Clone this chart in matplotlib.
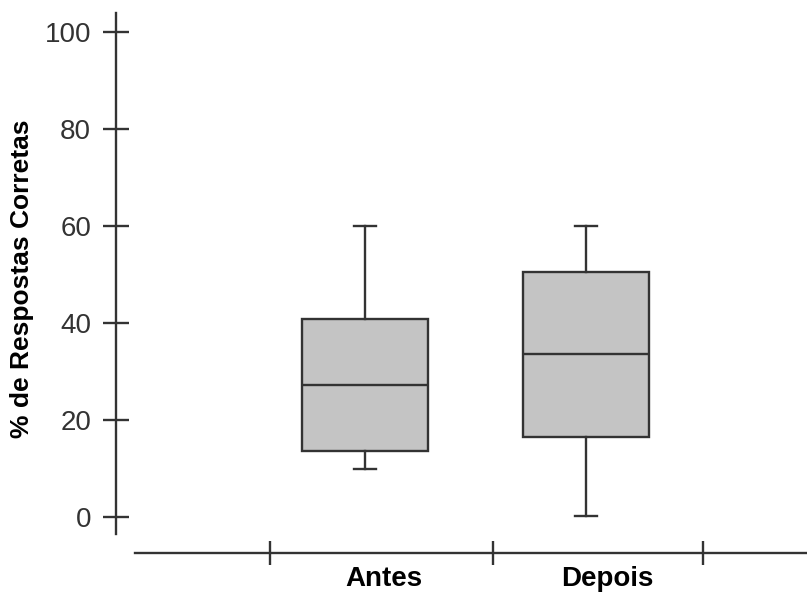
import matplotlib.pyplot as plt

# box plot values (% correct answers)
groups = ["Antes", "Depois"]
whisker_low = [10, 0.3]
q1 = [13.6, 16.5]
median = [27.3, 33.7]
q3 = [40.8, 50.5]
whisker_high = [60, 60]

y_ticks = [0, 20, 40, 60, 80, 100]

plt.rcParams["font.family"] = ["Liberation Sans", "DejaVu Sans"]

W, H = 807, 593
fig = plt.figure(figsize=(W / 100, H / 100), dpi=100)

line_col = "#333333"
px = 0.72  # points per pixel

# main axes: x=1,2 are box centres (365px, 586px)
x0, xscale = 144, 221
left_px, right_px = 115.7, 807
top_px, bottom_px = 13, 534
ax = fig.add_axes([left_px / W, 1 - bottom_px / H,
                   (right_px - left_px) / W, (bottom_px - top_px) / H])
ax.set_xlim((left_px - x0) / xscale, (right_px - x0) / xscale)
ax.set_ylim(-3.5, 103.9)

stats = []
for i, g in enumerate(groups):
    stats.append({"label": g, "whislo": whisker_low[i], "q1": q1[i], "med": median[i],
                  "q3": q3[i], "whishi": whisker_high[i]})

ax.bxp(stats, positions=[1, 2], widths=127 / xscale, capwidths=22 / xscale,
       showfliers=False, patch_artist=True,
       boxprops=dict(facecolor="#c4c4c4", edgecolor=line_col, linewidth=1.7),
       medianprops=dict(color=line_col, linewidth=1.7),
       whiskerprops=dict(color=line_col, linewidth=1.7),
       capprops=dict(color=line_col, linewidth=1.7))

for s in ["top", "right", "bottom"]:
    ax.spines[s].set_visible(False)
ax.spines["left"].set_color(line_col)
ax.spines["left"].set_linewidth(1.7)
ax.set_xticks([])
ax.set_yticks(y_ticks)
ax.tick_params(axis="y", direction="inout", length=27 * px, width=1.7, color=line_col,
               labelsize=20, labelcolor="#333333", pad=8)

fig.text(22 / W, 1 - 278.5 / H, "% de Respostas Corretas", rotation=90,
         ha="center", va="center", fontsize=19, fontweight="bold", color="black")

# separate x axis line below the plot
xa_left = 135
ax2 = fig.add_axes([xa_left / W, 1 - 553 / H, (W - xa_left) / W, 0.001])
ax2.set_xlim((xa_left - x0) / xscale, (W - x0) / xscale)
ax2.set_ylim(0, 1)
for s in ["top", "right", "left"]:
    ax2.spines[s].set_visible(False)
ax2.spines["bottom"].set_color(line_col)
ax2.spines["bottom"].set_linewidth(1.7)
ax2.set_yticks([])
ax2.set_xticks([(p - x0) / xscale for p in [270, 493, 703]])
ax2.set_xticklabels([])
ax2.tick_params(axis="x", which="major", direction="inout", length=24 * px,
                width=1.7, color=line_col)
ax2.set_xticks([(p - x0) / xscale for p in [384, 607]], minor=True)
ax2.set_xticklabels(groups, minor=True, fontsize=20, fontweight="bold")
ax2.tick_params(axis="x", which="minor", length=0, pad=9)

fig.savefig("out.png", dpi=100)
